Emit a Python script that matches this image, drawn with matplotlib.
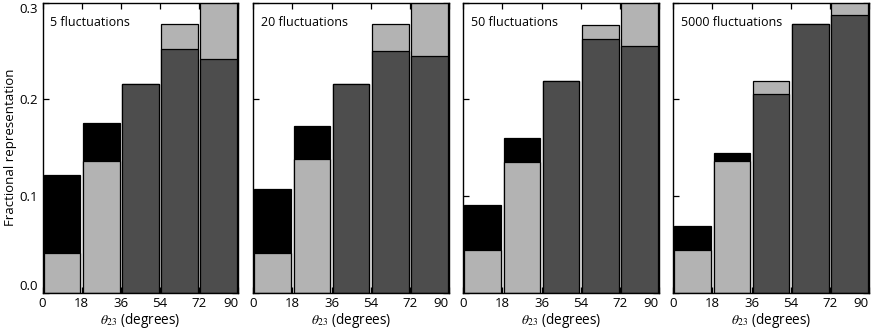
import matplotlib
matplotlib.use("Agg")
import matplotlib.pyplot as plt
import numpy as np

plt.rcParams['font.family'] = ['Open Sans', 'DejaVu Sans']
plt.rcParams['mathtext.fontset'] = 'stix'

# data
bin_edges = [0, 18, 36, 54, 72, 90]
tick_labels = ["0", "18", "36", "54", "72", "90"]
y_ticks = [0.0, 0.1, 0.2, 0.3]
y_tick_labels = ["0.0", "0.1", "0.2", "0.3"]
panel_titles = ["5 fluctuations", "20 fluctuations", "50 fluctuations", "5000 fluctuations"]

obs_5 = [0.122, 0.176, 0.2155, 0.252, 0.242]
obs_20 = [0.1075, 0.172, 0.2155, 0.250, 0.245]
obs_50 = [0.091, 0.160, 0.219, 0.262, 0.255]
obs_5000 = [0.069, 0.144, 0.2055, 0.278, 0.287]

ref_5 = [0.041, 0.136, 0.2155, 0.278, 0.31]
ref_20 = [0.041, 0.138, 0.2155, 0.278, 0.31]
ref_50 = [0.044, 0.135, 0.219, 0.277, 0.31]
ref_5000 = [0.044, 0.136, 0.219, 0.278, 0.31]

observed = [obs_5, obs_20, obs_50, obs_5000]
reference = [ref_5, ref_20, ref_50, ref_5000]

LIGHT = "#b3b3b3"
DARK = "#4d4d4d"
BLACK = "#000000"

fig = plt.figure(figsize=(8.71, 3.33), dpi=100)
W, H = 871, 333
lefts_px = [42.5, 253.3, 463.3, 673.3]
ax_w = 195.5
top_px, bot_px = 2.6, 292.7

for k in range(4):
    ax = fig.add_axes([lefts_px[k] / W, 1 - bot_px / H, ax_w / W, (bot_px - top_px) / H])
    obs = observed[k]
    ref = reference[k]
    for i in range(5):
        x0 = bin_edges[i] + 0.55
        w = (bin_edges[i + 1] - bin_edges[i]) - 1.1
        if obs[i] > ref[i]:
            ax.bar(x0, obs[i], width=w, align='edge', color=BLACK, edgecolor='black', linewidth=0.9, zorder=2)
            ax.bar(x0, ref[i], width=w, align='edge', color=LIGHT, edgecolor='black', linewidth=0.9, zorder=3)
        else:
            ax.bar(x0, ref[i], width=w, align='edge', color=LIGHT, edgecolor='black', linewidth=0.9, zorder=2)
            ax.bar(x0, obs[i], width=w, align='edge', color=DARK, edgecolor='black', linewidth=0.9, zorder=3)
    ax.set_xlim(0, 90)
    ax.set_ylim(0, 0.3)
    ax.set_xticks(bin_edges)
    ax.set_xticklabels(tick_labels)
    xl = ax.get_xticklabels()
    xl[-1].set_horizontalalignment('right')
    ax.set_yticks(y_ticks)
    ax.tick_params(direction='in', top=True, right=True, length=4, width=0.9,
                   labelsize=9.5, pad=3)
    if k == 0:
        ax.set_yticklabels(y_tick_labels)
        yl = ax.get_yticklabels()
        yl[-1].set_verticalalignment('top')
        yl[0].set_verticalalignment('bottom')
        ax.set_ylabel("Fractional representation", fontsize=9.5, labelpad=2)
    else:
        ax.set_yticklabels([])
    ax.set_xlabel(r"$\theta_{23}$ (degrees)", fontsize=9.8, labelpad=1)
    for s in ax.spines.values():
        s.set_linewidth(1.0)
        s.set_zorder(5)
    ax.text(0.04, 0.955, panel_titles[k], transform=ax.transAxes, fontsize=9,
            ha='left', va='top', zorder=6)

fig.savefig("out.png", dpi=100)
